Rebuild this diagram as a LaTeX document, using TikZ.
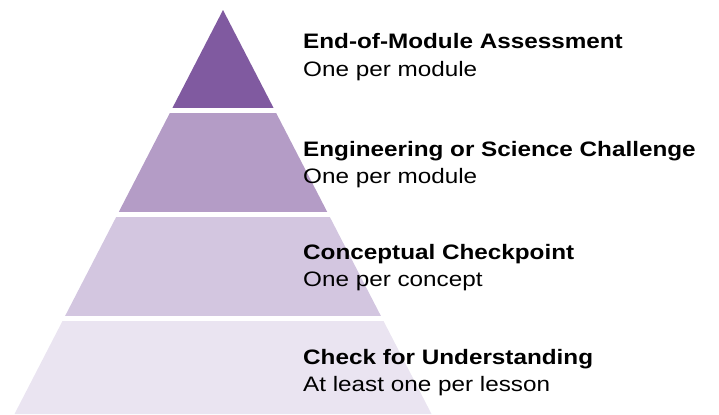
\documentclass[tikz,border=0pt]{standalone}
\usepackage{fontspec}
\setmainfont[FakeStretch=1.16]{Liberation Sans}
\usepackage{tikz}
\usetikzlibrary{positioning}
\definecolor{tierA}{RGB}{128,90,160}
\definecolor{tierB}{RGB}{180,156,198}
\definecolor{tierC}{RGB}{211,198,224}
\definecolor{tierD}{RGB}{234,228,241}
\tikzset{
  tiername/.style={anchor=base west, inner sep=0pt, font=\fontsize{21}{25}\selectfont\bfseries},
  tiernote/.style={anchor=base west, inner sep=0pt, font=\fontsize{21}{25}\selectfont}
}

\begin{document}
\begin{tikzpicture}[x=1bp,y=-1bp]
\useasboundingbox (0,0) rectangle (719,414);
% pyramid, cut into four tiers with white gaps
\begin{scope}
\clip (223,10) -- (14.5,414) -- (431.5,414) -- cycle;
\fill[tierA] (0,0) rectangle (719,107.5);
\fill[tierB] (0,112.5) rectangle (719,211.5);
\fill[tierC] (0,216.5) rectangle (719,315.5);
\fill[tierD] (0,320.5) rectangle (719,420);
\end{scope}
% labels
\node[tiername] (eom) at (303,48) {End-of-Module Assessment};
\node[tiernote] (eomnote) at ([yshift=-28bp]eom.base west) {One per module};
\node[tiername] (esc) at (303,156.5) {Engineering or Science Challenge};
\node[tiernote] (escnote) at ([yshift=-27bp]esc.base west) {One per module};
\node[tiername] (ccp) at (303,259) {Conceptual Checkpoint};
\node[tiernote] (ccpnote) at ([yshift=-27bp]ccp.base west) {One per concept};
\node[tiername] (cfu) at (303,364) {Check for Understanding};
\node[tiernote] (cfunote) at ([yshift=-27bp]cfu.base west) {At least one per lesson};
\end{tikzpicture}
\end{document}
